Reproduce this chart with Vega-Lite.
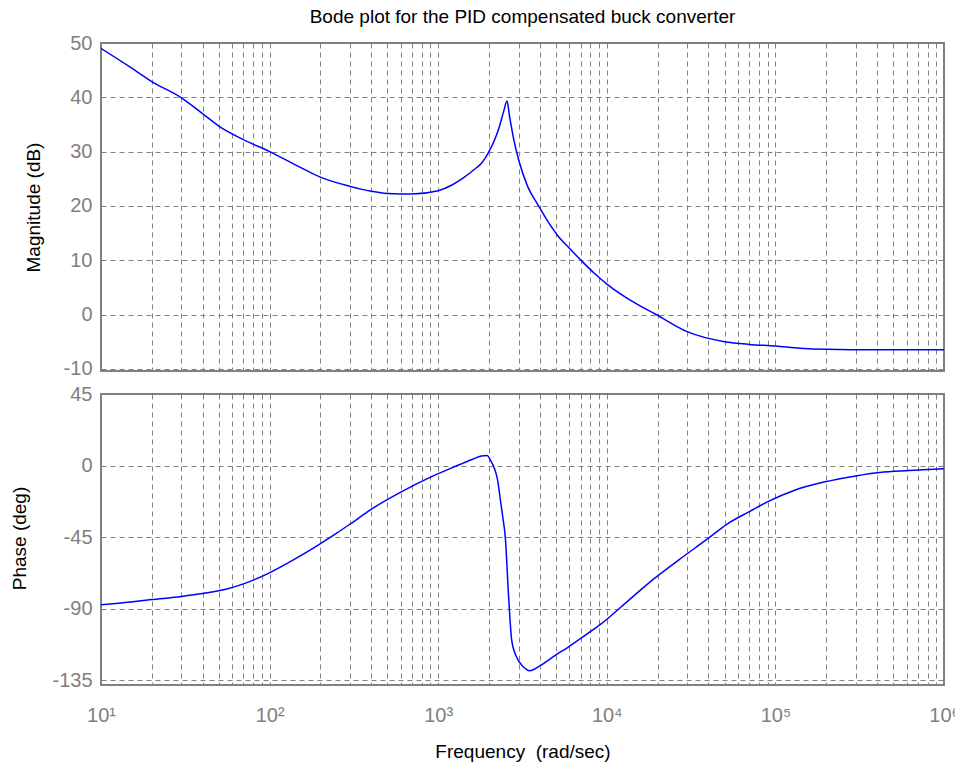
{
  "$schema": "https://vega.github.io/schema/vega-lite/v6.json",
  "background": "white",
  "padding": {"left": 8, "top": 7, "right": 12, "bottom": 5},
  "spacing": 3,
  "datasets": {
    "mag": [
      {"w": 10, "v": 49.0}, {"w": 15, "v": 45.5}, {"w": 20, "v": 42.9}, {"w": 30, "v": 39.9},
      {"w": 40, "v": 37.0}, {"w": 50, "v": 34.7}, {"w": 70, "v": 32.2}, {"w": 100, "v": 30.0},
      {"w": 150, "v": 27.2}, {"w": 200, "v": 25.3}, {"w": 300, "v": 23.6}, {"w": 400, "v": 22.7},
      {"w": 500, "v": 22.3}, {"w": 700, "v": 22.2}, {"w": 1000, "v": 22.8}, {"w": 1200, "v": 23.8},
      {"w": 1430, "v": 25.3}, {"w": 1650, "v": 26.8}, {"w": 1800, "v": 27.8}, {"w": 1900, "v": 28.8}, {"w": 2000, "v": 30.0},
      {"w": 2150, "v": 32.0}, {"w": 2300, "v": 34.5}, {"w": 2450, "v": 37.5}, {"w": 2560, "v": 39.3},
      {"w": 2650, "v": 36.5}, {"w": 2830, "v": 31.7}, {"w": 3000, "v": 28.5}, {"w": 3390, "v": 23.6},
      {"w": 3890, "v": 20.3}, {"w": 4500, "v": 17.0}, {"w": 5120, "v": 14.5}, {"w": 6000, "v": 12.2},
      {"w": 7030, "v": 10.0}, {"w": 8500, "v": 7.5}, {"w": 10100, "v": 5.5}, {"w": 14000, "v": 2.5},
      {"w": 19600, "v": 0.0}, {"w": 30200, "v": -3.2}, {"w": 50000, "v": -5.0}, {"w": 70000, "v": -5.5},
      {"w": 100000, "v": -5.8}, {"w": 140000, "v": -6.2}, {"w": 200000, "v": -6.4}, {"w": 400000, "v": -6.5},
      {"w": 1000000, "v": -6.5}
    ],
    "phase": [
      {"w": 10, "v": -87.5}, {"w": 15, "v": -85.8}, {"w": 20, "v": -84.3}, {"w": 30, "v": -82.3},
      {"w": 40, "v": -80.5}, {"w": 55, "v": -77.8}, {"w": 70, "v": -74.4}, {"w": 97, "v": -68.1},
      {"w": 140, "v": -59.0}, {"w": 192, "v": -50.3}, {"w": 250, "v": -42.5}, {"w": 302, "v": -36.6},
      {"w": 400, "v": -27.5}, {"w": 600, "v": -16.7}, {"w": 948, "v": -6.2}, {"w": 1300, "v": 0.0},
      {"w": 1600, "v": 4.0}, {"w": 1800, "v": 6.0}, {"w": 1950, "v": 6.3}, {"w": 2050, "v": 3.0},
      {"w": 2150, "v": -1.5}, {"w": 2250, "v": -9.0}, {"w": 2340, "v": -21.9}, {"w": 2420, "v": -33.0},
      {"w": 2500, "v": -45.0}, {"w": 2610, "v": -80.7}, {"w": 2730, "v": -110.0}, {"w": 2920, "v": -120.6},
      {"w": 3200, "v": -126.5}, {"w": 3490, "v": -129.0}, {"w": 4000, "v": -126.0}, {"w": 5000, "v": -119.0},
      {"w": 5880, "v": -114.3}, {"w": 7500, "v": -106.5}, {"w": 9250, "v": -99.6}, {"w": 12100, "v": -89.1},
      {"w": 19000, "v": -71.3}, {"w": 27000, "v": -59.0}, {"w": 39700, "v": -46.0}, {"w": 52000, "v": -36.6},
      {"w": 70000, "v": -29.0}, {"w": 89000, "v": -23.0}, {"w": 130000, "v": -15.5}, {"w": 194000, "v": -10.4},
      {"w": 300000, "v": -6.5}, {"w": 440000, "v": -4.1}, {"w": 700000, "v": -2.8}, {"w": 1000000, "v": -2.0}
    ]
  },
  "vconcat": [
    {
      "width": 843,
      "height": 328,
      "title": {"text": "Bode plot for the PID compensated buck converter", "anchor": "middle", "frame": "group", "fontSize": 19, "font": "Liberation Sans", "fontWeight": "normal", "color": "black", "offset": 6},
      "data": {"name": "mag"},
      "mark": {"type": "line", "color": "#0000ff", "strokeWidth": 1.5, "clip": true, "interpolate": "monotone"},
      "encoding": {
        "x": {"field": "w", "type": "quantitative",
          "scale": {"type": "log", "domain": [10, 1000000], "nice": false},
          "axis": {"values": [10,20,30,40,50,60,70,80,90,100,200,300,400,500,600,700,800,900,1000,2000,3000,4000,5000,6000,7000,8000,9000,10000,20000,30000,40000,50000,60000,70000,80000,90000,100000,200000,300000,400000,500000,600000,700000,800000,900000,1000000],
            "labels": false, "title": null}},
        "y": {"field": "v", "type": "quantitative",
          "scale": {"domain": [-10.4, 50], "nice": false, "zero": false},
          "axis": {"values": [-10,0,10,20,30,40,50], "labelExpr": "'' + datum.value", "title": "Magnitude (dB)", "titleX": -58, "titleY": 164}}
      }
    },
    {
      "width": 843,
      "height": 291,
      "data": {"name": "phase"},
      "mark": {"type": "line", "color": "#0000ff", "strokeWidth": 1.5, "clip": true, "interpolate": "monotone"},
      "encoding": {
        "x": {"field": "w", "type": "quantitative",
          "scale": {"type": "log", "domain": [10, 1000000], "nice": false},
          "axis": {"values": [10,20,30,40,50,60,70,80,90,100,200,300,400,500,600,700,800,900,1000,2000,3000,4000,5000,6000,7000,8000,9000,10000,20000,30000,40000,50000,60000,70000,80000,90000,100000,200000,300000,400000,500000,600000,700000,800000,900000,1000000],
            "labelExpr": "datum.value==10?'10¹':datum.value==100?'10²':datum.value==1000?'10³':datum.value==10000?'10⁴':datum.value==100000?'10⁵':datum.value==1000000?'10⁶':''",
            "labelOverlap": false, "labelPadding": 20, "labelFlush": false,
            "title": "Frequency\u00a0 (rad/sec)", "titlePadding": 17}},
        "y": {"field": "v", "type": "quantitative",
          "scale": {"domain": [-138, 45], "nice": false, "zero": false},
          "axis": {"values": [-135,-90,-45,0,45], "labelExpr": "'' + datum.value", "title": "Phase (deg)", "titleX": -72, "titleY": 144}}
      }
    }
  ],
  "config": {
    "view": {"stroke": "#808080", "strokeWidth": 2},
    "axis": {
      "domain": false, "ticks": false,
      "grid": true, "gridColor": "#808080", "gridDash": [5, 4], "gridOpacity": 1, "gridWidth": 1,
      "labelColor": "#808080", "labelFont": "Liberation Sans", "labelFontSize": 20, "labelPadding": 9,
      "titleFont": "Liberation Sans", "titleFontSize": 19, "titleFontWeight": "normal", "titleColor": "black"
    }
  }
}
